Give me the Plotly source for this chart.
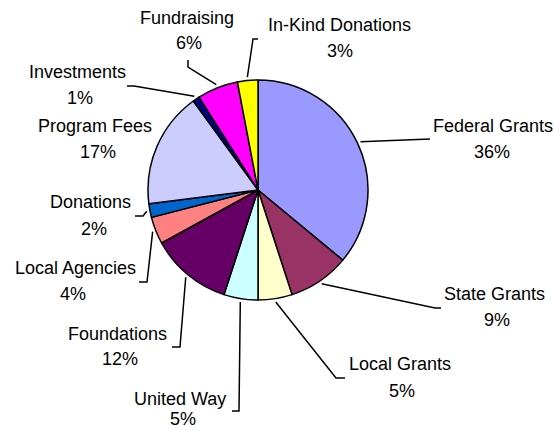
import math
import plotly.graph_objects as go

# ---- data ----
categories = ["Federal Grants", "State Grants", "Local Grants", "United Way", "Foundations",
              "Local Agencies", "Donations", "Program Fees", "Investments", "Fundraising",
              "In-Kind Donations"]
values = [36, 9, 5, 5, 12, 4, 2, 17, 1, 6, 3]
colors = ["#9999FF", "#993366", "#FFFFCC", "#CCFFFF", "#660066", "#FF8080",
          "#0066CC", "#CCCCFF", "#000080", "#FF00FF", "#FFFF00"]

# ---- layout (pixel positions of labels and leader-line bends) ----
W, H = 560, 431
CX, CY, R = 258, 190, 110
# name-line centre, percent-line centre
label_pos = [((493, 126), (492, 152)), ((494, 294), (497, 320)), ((400, 364), (402, 391)),
             ((180, 399), (183, 419)), ((117, 334), (120, 359)), ((75, 268), (73, 294)),
             ((90, 202), (94, 229)), ((95, 126), (98, 152)), ((77, 72), (80, 98)),
             ((187, 18), (189, 43)), ((339, 25), (340, 51))]
# leader line bend points after the pie edge (None = no leader line)
leader_pts = [[(430, 139)], [(435, 308), (441, 308)], [(336, 378), (345, 378)],
              [(239, 411), (232, 411)], [(180, 347), (172, 347)], [(147, 282), (139, 282)],
              [(143, 216), (135, 216)], None, [(134, 86), (127, 86)],
              [(188, 67), (188, 60)], [(253, 39), (258, 39)]]


def px(x):
    return x / W


def py(y):
    return 1 - y / H


fig = go.Figure(go.Pie(
    labels=categories, values=values, sort=False, direction="clockwise", rotation=0,
    marker=dict(colors=colors, line=dict(color="black", width=1.5)),
    textinfo="none", hoverinfo="label+percent", showlegend=False,
    domain=dict(x=[px(CX - R), px(CX + R)], y=[py(CY + R), py(CY - R)]),
))

total = sum(values)
cum = 0
shapes = []
annotations = []
font = dict(family="Liberation Sans, Arial, sans-serif", size=18, color="black")
for name, v, lp, pts in zip(categories, values, label_pos, leader_pts):
    mid = (cum + v / 2) / total * 2 * math.pi
    cum += v
    if pts:
        sx = CX + R * 1.03 * math.sin(mid)
        sy = CY - R * 1.03 * math.cos(mid)
        path = "M %.4f %.4f " % (px(sx), py(sy)) + " ".join(
            "L %.4f %.4f" % (px(x), py(y)) for x, y in pts)
        shapes.append(dict(type="path", xref="paper", yref="paper", path=path,
                           line=dict(color="black", width=1.5)))
    pct = "%d%%" % round(v / total * 100)
    (nx, ny), (qx, qy) = lp
    annotations.append(dict(x=px(nx), y=py(ny), xref="paper", yref="paper", text=name,
                            showarrow=False, xanchor="center", yanchor="middle", font=font,
                            borderpad=0))
    annotations.append(dict(x=px(qx), y=py(qy), xref="paper", yref="paper", text=pct,
                            showarrow=False, xanchor="center", yanchor="middle", font=font,
                            borderpad=0))

fig.update_layout(
    width=W, height=H, margin=dict(l=0, r=0, t=0, b=0),
    paper_bgcolor="white", plot_bgcolor="white",
    shapes=shapes, annotations=annotations,
)
fig.write_html("out.html", config={"displayModeBar": False},
               post_script="document.body.style.margin='0px';document.body.style.overflow='hidden';")
